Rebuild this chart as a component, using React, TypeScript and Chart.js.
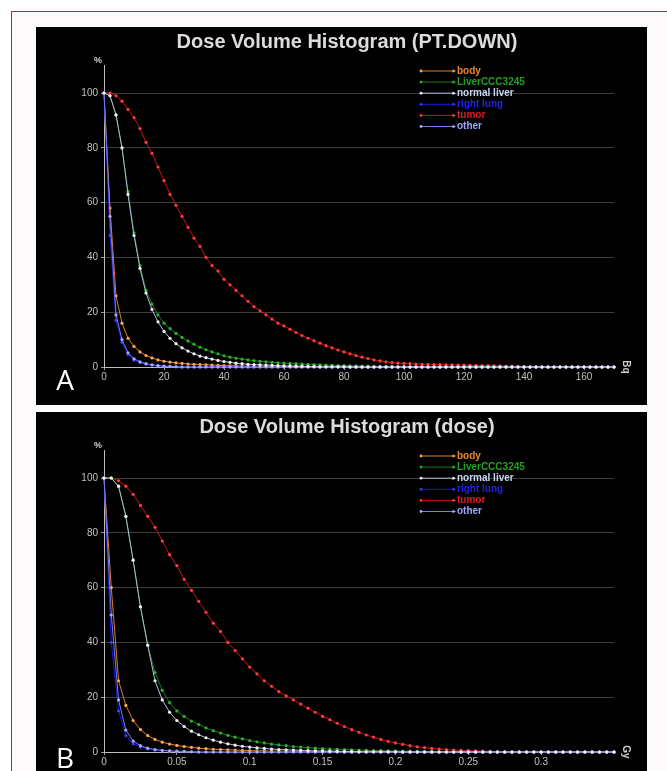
import React, { useEffect, useRef } from "react";
import { Chart, registerables } from "chart.js";

Chart.register(...registerables);

// ---------- DATA ----------
const SERIES_NAMES = ["body", "LiverCCC3245", "normal liver", "right lung", "tumor", "other"];

const Y_TICKS = [0, 20, 40, 60, 80, 100];

// Panel A: dose in Bq
const X_TICKS_A = [0, 20, 40, 60, 80, 100, 120, 140, 160];
const X_TICK_LABELS_A = ["0", "20", "40", "60", "80", "100", "120", "140", "160"];
const doseA = [
  0, 2, 4, 6, 8, 10, 12, 14, 16, 18, 20, 22, 24, 26, 28, 30, 32, 34, 36, 38, 40, 42, 44, 46, 48, 50,
  52, 54, 56, 58, 60, 62, 64, 66, 68, 70, 72, 74, 76, 78, 80, 82, 84, 86, 88, 90, 92, 94, 96, 98, 100,
  102, 104, 106, 108, 110, 112, 114, 116, 118, 120, 122, 124, 126, 128, 130, 132, 134, 136, 138, 140,
  142, 144, 146, 148, 150, 152, 154, 156, 158, 160, 162, 164, 166, 168, 170,
];
const bodyA = [
  100, 58, 26, 16, 10.5, 7.5, 5.5, 4.2, 3.3, 2.6, 2.1, 1.8, 1.5, 1.3, 1.1, 1.0, 0.9, 0.8, 0.7, 0.6,
  0.5, 0.45, 0.4, 0.35, 0.3, 0.25, 0.2, 0.2, 0.15, 0.15, 0.1, 0.1, 0.1, 0.1, 0.1, 0.1,
  0, 0, 0, 0, 0, 0, 0, 0, 0, 0, 0, 0, 0, 0, 0, 0, 0, 0, 0, 0, 0, 0, 0, 0, 0, 0, 0, 0, 0, 0,
  0, 0, 0, 0, 0, 0, 0, 0, 0, 0, 0, 0, 0, 0, 0, 0, 0, 0, 0, 0,
];
const liverA = [
  100, 99, 92, 80, 64, 49, 37, 28, 23, 19, 16, 14, 12.3, 10.8, 9.5, 8.3, 7.2, 6.3, 5.5, 4.8,
  4.1, 3.6, 3.2, 2.9, 2.6, 2.3, 2.1, 1.9, 1.7, 1.5, 1.4, 1.3, 1.2, 1.1, 1.0, 0.9, 0.8, 0.7, 0.6, 0.5,
  0.5, 0.4, 0.4, 0.3, 0.3, 0.2, 0.2, 0.2, 0.2, 0.1, 0.1, 0.1, 0.1, 0.1, 0.1, 0.1,
  0, 0, 0, 0, 0, 0, 0, 0, 0, 0, 0, 0, 0, 0, 0, 0, 0, 0, 0, 0, 0, 0, 0, 0, 0, 0, 0, 0, 0, 0,
];
const normalLiverA = [
  100, 99, 92, 80, 63, 48, 36, 27, 21, 16.5, 13, 10.5, 8.5, 7, 5.8, 4.8, 4.0, 3.4, 2.9, 2.4,
  2.0, 1.7, 1.4, 1.2, 1.0, 0.9, 0.8, 0.7, 0.6, 0.5, 0.4, 0.4, 0.3, 0.3, 0.2, 0.2, 0.1, 0.1, 0.1, 0.1, 0.1,
  0, 0, 0, 0, 0, 0, 0, 0, 0, 0, 0, 0, 0, 0, 0, 0, 0, 0, 0, 0, 0, 0, 0, 0, 0, 0, 0, 0, 0, 0,
  0, 0, 0, 0, 0, 0, 0, 0, 0, 0, 0, 0, 0, 0, 0,
];
const rightLungA = [
  100, 48, 17, 9, 4.5, 2.5, 1.6, 1.0, 0.7, 0.5, 0.3, 0.2, 0.1,
  0, 0, 0, 0, 0, 0, 0, 0, 0, 0, 0, 0, 0, 0, 0, 0, 0, 0, 0, 0, 0, 0, 0, 0, 0, 0, 0, 0, 0, 0,
  0, 0, 0, 0, 0, 0, 0, 0, 0, 0, 0, 0, 0, 0, 0, 0, 0, 0, 0, 0, 0, 0, 0, 0, 0, 0, 0, 0, 0, 0,
  0, 0, 0, 0, 0, 0, 0, 0, 0, 0, 0, 0, 0,
];
const tumorA = [
  100, 100, 99, 97, 94, 91, 87, 82, 78, 73, 68, 63, 59, 55, 51, 47, 44, 40, 37, 35,
  32, 30, 28, 26, 24, 22, 20.5, 19, 17.5, 16, 15, 13.8, 12.6, 11.5, 10.5, 9.6, 8.7, 7.8, 7, 6.2,
  5.5, 4.8, 4.2, 3.6, 3.1, 2.6, 2.2, 1.9, 1.6, 1.4, 1.3, 1.2, 1.1, 1.0, 1.0, 0.9, 0.9, 0.8, 0.8, 0.7,
  0.7, 0.6, 0.6, 0.5, 0.5, 0.4, 0.4, 0.3, 0.3, 0.2, 0.2, 0.1, 0.1,
  0, 0, 0, 0, 0, 0, 0, 0, 0, 0, 0, 0, 0,
];
const otherA = [
  100, 55, 19, 10, 5.2, 3, 1.9, 1.2, 0.8, 0.5, 0.3, 0.2, 0.1,
  0, 0, 0, 0, 0, 0, 0, 0, 0, 0, 0, 0, 0, 0, 0, 0, 0, 0, 0, 0, 0, 0, 0, 0, 0, 0, 0, 0, 0, 0,
  0, 0, 0, 0, 0, 0, 0, 0, 0, 0, 0, 0, 0, 0, 0, 0, 0, 0, 0, 0, 0, 0, 0, 0, 0, 0, 0, 0, 0, 0,
  0, 0, 0, 0, 0, 0, 0, 0, 0, 0, 0, 0, 0,
];

// Panel B: dose in Gy
const X_TICKS_B = [0, 0.05, 0.1, 0.15, 0.2, 0.25, 0.3];
const X_TICK_LABELS_B = ["0", "0.05", "0.1", "0.15", "0.2", "0.25", "0.3"];
const doseB = [
  0, 0.005, 0.01, 0.015, 0.02, 0.025, 0.03, 0.035, 0.04, 0.045, 0.05, 0.055, 0.06, 0.065, 0.07,
  0.075, 0.08, 0.085, 0.09, 0.095, 0.1, 0.105, 0.11, 0.115, 0.12, 0.125, 0.13, 0.135, 0.14, 0.145,
  0.15, 0.155, 0.16, 0.165, 0.17, 0.175, 0.18, 0.185, 0.19, 0.195, 0.2, 0.205, 0.21, 0.215, 0.22,
  0.225, 0.23, 0.235, 0.24, 0.245, 0.25, 0.255, 0.26, 0.265, 0.27, 0.275, 0.28, 0.285, 0.29, 0.295,
  0.3, 0.305, 0.31, 0.315, 0.32, 0.325, 0.33, 0.335, 0.34, 0.345, 0.35,
];
const bodyB = [
  100, 60, 26, 17, 11.5, 8.2, 6.0, 4.6, 3.6, 2.9, 2.4, 2.0, 1.7, 1.4, 1.2, 1.0, 0.9, 0.8, 0.7, 0.6,
  0.5, 0.4, 0.4, 0.3, 0.3, 0.2, 0.2, 0.1, 0.1, 0.1, 0.1, 0.1, 0.1,
  0, 0, 0, 0, 0, 0, 0, 0, 0, 0, 0, 0, 0, 0, 0, 0, 0, 0, 0, 0, 0, 0, 0, 0, 0, 0, 0, 0, 0, 0,
  0, 0, 0, 0, 0, 0, 0, 0,
];
const liverB = [
  100, 100, 97, 86, 70, 53, 39, 29, 22.5, 18, 15, 13, 11.3, 10, 8.8, 7.8, 6.9, 6.1, 5.4, 4.8,
  4.2, 3.7, 3.3, 2.9, 2.6, 2.3, 2.0, 1.8, 1.6, 1.4, 1.2, 1.1, 1.0, 0.9, 0.8, 0.7, 0.6, 0.5, 0.5, 0.4,
  0.4, 0.3, 0.3, 0.2, 0.2, 0.2, 0.1, 0.1, 0.1, 0.1, 0.1,
  0, 0, 0, 0, 0, 0, 0, 0, 0, 0, 0, 0, 0, 0, 0, 0, 0, 0, 0, 0,
];
const normalLiverB = [
  100, 100, 97, 86, 70, 53, 39, 26, 19, 14.5, 11.5, 9.3, 7.6, 6.3, 5.2, 4.3, 3.6, 3.0, 2.5, 2.1,
  1.8, 1.5, 1.3, 1.1, 0.9, 0.8, 0.7, 0.6, 0.5, 0.4, 0.4, 0.3, 0.3, 0.2, 0.2, 0.1, 0.1, 0.1, 0.1, 0.1,
  0.1,
  0, 0, 0, 0, 0, 0, 0, 0, 0, 0, 0, 0, 0, 0, 0, 0, 0, 0, 0, 0, 0, 0, 0, 0, 0, 0, 0, 0, 0, 0,
];
const rightLungB = [
  100, 40, 15, 6, 3, 1.8, 1.1, 0.7, 0.5, 0.3, 0.2, 0.1, 0.1,
  0, 0, 0, 0, 0, 0, 0, 0, 0, 0, 0, 0, 0, 0, 0, 0, 0, 0, 0, 0, 0, 0, 0, 0, 0, 0, 0, 0, 0, 0,
  0, 0, 0, 0, 0, 0, 0, 0, 0, 0, 0, 0, 0, 0, 0, 0, 0, 0, 0, 0, 0, 0, 0, 0, 0, 0, 0, 0,
];
const tumorB = [
  100, 100, 99, 97, 94, 90, 86, 82, 77, 72, 68, 63, 59, 55, 51, 47, 44, 40, 37, 34,
  31, 28.5, 26, 24, 22, 20.5, 19, 17.5, 16, 14.5, 13, 11.8, 10.5, 9.3, 8.2, 7.2, 6.2, 5.4, 4.6, 3.9,
  3.3, 2.8, 2.3, 1.9, 1.6, 1.3, 1.1, 0.9, 0.7, 0.6, 0.5, 0.4, 0.3, 0.2, 0.1, 0.1,
  0, 0, 0, 0, 0, 0, 0, 0, 0, 0, 0, 0, 0, 0, 0,
];
const otherB = [
  100, 50, 19, 8, 4, 2.3, 1.4, 0.9, 0.6, 0.4, 0.3, 0.2, 0.1,
  0, 0, 0, 0, 0, 0, 0, 0, 0, 0, 0, 0, 0, 0, 0, 0, 0, 0, 0, 0, 0, 0, 0, 0, 0, 0, 0, 0, 0, 0,
  0, 0, 0, 0, 0, 0, 0, 0, 0, 0, 0, 0, 0, 0, 0, 0, 0, 0, 0, 0, 0, 0, 0, 0, 0, 0, 0, 0,
];

// ---------- STYLE ----------
const LINE_COLORS = ["#d9802a", "#1c7d1c", "#aebfe0", "#1a1ae6", "#c81414", "#7a7af0"];
const POINT_COLORS = ["#ffa54a", "#2fae2f", "#f4f4f4", "#3a3aff", "#ff3b3b", "#a8a8ff"];
const TEXT_COLORS = ["#e8892c", "#22a022", "#c9d6f2", "#2020e0", "#e01c1c", "#9aa6ff"];
const DRAW_ORDER = [3, 4, 0, 2, 5, 1];

const W = 611;
const H = 378;

type PanelDef = {
  title: string;
  unit: string;
  letter: string;
  letterBase: number;
  xs: number[];
  ys: number[][];
  xMax: number;
  xTicks: number[];
  xTickLabels: string[];
};

const PANEL_A: PanelDef = {
  title: "Dose Volume Histogram (PT.DOWN)",
  unit: "Bq",
  letter: "A",
  letterBase: 363,
  xs: doseA,
  ys: [bodyA, liverA, normalLiverA, rightLungA, tumorA, otherA],
  xMax: 170,
  xTicks: X_TICKS_A,
  xTickLabels: X_TICK_LABELS_A,
};

const PANEL_B: PanelDef = {
  title: "Dose Volume Histogram (dose)",
  unit: "Gy",
  letter: "B",
  letterBase: 356,
  xs: doseB,
  ys: [bodyB, liverB, normalLiverB, rightLungB, tumorB, otherB],
  xMax: 0.35,
  xTicks: X_TICKS_B,
  xTickLabels: X_TICK_LABELS_B,
};

function DVHChart({ panel }: { panel: PanelDef }) {
  const ref = useRef<HTMLCanvasElement>(null);

  useEffect(() => {
    if (!ref.current) return;
    const datasets = panel.ys.map((ys, k) => ({
      label: SERIES_NAMES[k],
      data: panel.xs.map((x, i) => ({ x, y: ys[i] })),
      borderColor: LINE_COLORS[k],
      borderWidth: 1,
      pointRadius: 1.6,
      pointBackgroundColor: POINT_COLORS[k],
      pointBorderWidth: 0,
      pointBorderColor: POINT_COLORS[k],
      order: DRAW_ORDER[k],
      clip: false as any,
      tension: 0,
      fill: false,
    }));

    const overlay = {
      id: "overlay",
      afterDraw(chart: any) {
        const ctx = chart.ctx as CanvasRenderingContext2D;
        ctx.save();
        // title
        ctx.fillStyle = "#dcdcdc";
        ctx.font = "bold 20px 'Liberation Sans', Arial, sans-serif";
        ctx.textAlign = "center";
        ctx.textBaseline = "middle";
        ctx.fillText(panel.title, 311, 15);
        // % label
        ctx.fillStyle = "#d0d0d0";
        ctx.font = "bold 9px 'Liberation Sans', Arial, sans-serif";
        ctx.fillText("%", 62, 34);
        // unit label rotated
        ctx.save();
        ctx.translate(590, chart.chartArea.bottom);
        ctx.rotate(Math.PI / 2);
        ctx.font = "bold 10px 'Liberation Sans', Arial, sans-serif";
        ctx.fillStyle = "#d0d0d0";
        ctx.fillText(panel.unit, 0, 0);
        ctx.restore();
        // legend
        for (let k = 0; k < SERIES_NAMES.length; k++) {
          const y = 44 + k * 11.1;
          const x0 = 385;
          const x1 = 418;
          ctx.strokeStyle = LINE_COLORS[k];
          ctx.lineWidth = 1;
          ctx.beginPath();
          ctx.moveTo(x0, y);
          ctx.lineTo(x1, y);
          ctx.stroke();
          ctx.fillStyle = POINT_COLORS[k];
          ctx.beginPath();
          ctx.arc(x0, y, 1.4, 0, Math.PI * 2);
          ctx.fill();
          ctx.beginPath();
          ctx.moveTo(x1 + 2, y);
          ctx.lineTo(x1 - 1.5, y - 1.8);
          ctx.lineTo(x1 - 1.5, y + 1.8);
          ctx.closePath();
          ctx.fill();
          ctx.fillStyle = TEXT_COLORS[k];
          ctx.font = "bold 10px 'Liberation Sans', Arial, sans-serif";
          ctx.textAlign = "left";
          ctx.textBaseline = "middle";
          ctx.fillText(SERIES_NAMES[k], 421, y);
        }
        // panel letter
        ctx.fillStyle = "#ffffff";
        ctx.font = "28px 'Open Sans', 'Liberation Sans', sans-serif";
        ctx.textAlign = "center";
        ctx.textBaseline = "alphabetic";
        ctx.fillText(panel.letter, 29, panel.letterBase);
        ctx.restore();
      },
    };

    const tickFont = { family: "'Liberation Sans', Arial, sans-serif", size: 10 };

    const chart = new Chart(ref.current, {
      type: "line",
      data: { datasets: datasets as any },
      options: {
        animation: false,
        responsive: false,
        maintainAspectRatio: false,
        layout: { padding: { top: 38.6, right: 33, bottom: 0, left: 0 } },
        plugins: {
          legend: { display: false },
          title: { display: false },
          tooltip: { enabled: false },
        },
        scales: {
          x: {
            type: "linear",
            min: 0,
            max: panel.xMax,
            afterBuildTicks: (s: any) => {
              s.ticks = panel.xTicks.map((v) => ({ value: v }));
            },
            afterFit: (s: any) => {
              s.height = 38;
            },
            ticks: {
              color: "#c0c0c0",
              font: tickFont,
              padding: 1,
              maxRotation: 0,
              autoSkip: false,
              callback: (_v: any, i: number) => panel.xTickLabels[i],
            },
            grid: { drawOnChartArea: false, tickLength: 3, tickColor: "#9a9a9a" },
            border: { color: "#bdbdbd", width: 1 },
          },
          y: {
            type: "linear",
            min: 0,
            max: 110,
            afterBuildTicks: (s: any) => {
              s.ticks = Y_TICKS.map((v) => ({ value: v }));
            },
            afterFit: (s: any) => {
              s.width = 68;
            },
            ticks: {
              color: "#c0c0c0",
              font: tickFont,
              padding: 3,
              callback: (v: any) => String(v),
            },
            grid: {
              color: (c: any) => (c.tick && c.tick.value === 0 ? "rgba(0,0,0,0)" : "#3c3c3c"),
              tickLength: 3,
              tickColor: "#9a9a9a",
            },
            border: { color: "#bdbdbd", width: 1 },
          },
        },
      },
      plugins: [overlay],
    });
    return () => chart.destroy();
  }, [panel]);

  return <canvas ref={ref} width={W} height={H} style={{ display: "block", width: W, height: H }} />;
}

export default function App() {
  return (
    <div
      style={{
        position: "absolute",
        left: 0,
        top: 0,
        width: 667,
        height: 771,
        overflow: "hidden",
        background: "#ffffff",
      }}
    >
      <div
        style={{
          position: "absolute",
          left: 11,
          top: 11,
          width: 720,
          height: 820,
          borderTop: "1px solid #b3204c",
          borderLeft: "1px solid #b3204c",
          background: "#fdfafb",
          boxSizing: "border-box",
        }}
      />
      <div style={{ position: "absolute", left: 36, top: 27, width: W, height: H, background: "#000" }}>
        <DVHChart panel={PANEL_A} />
      </div>
      <div style={{ position: "absolute", left: 36, top: 412, width: W, height: H, background: "#000" }}>
        <DVHChart panel={PANEL_B} />
      </div>
    </div>
  );
}
